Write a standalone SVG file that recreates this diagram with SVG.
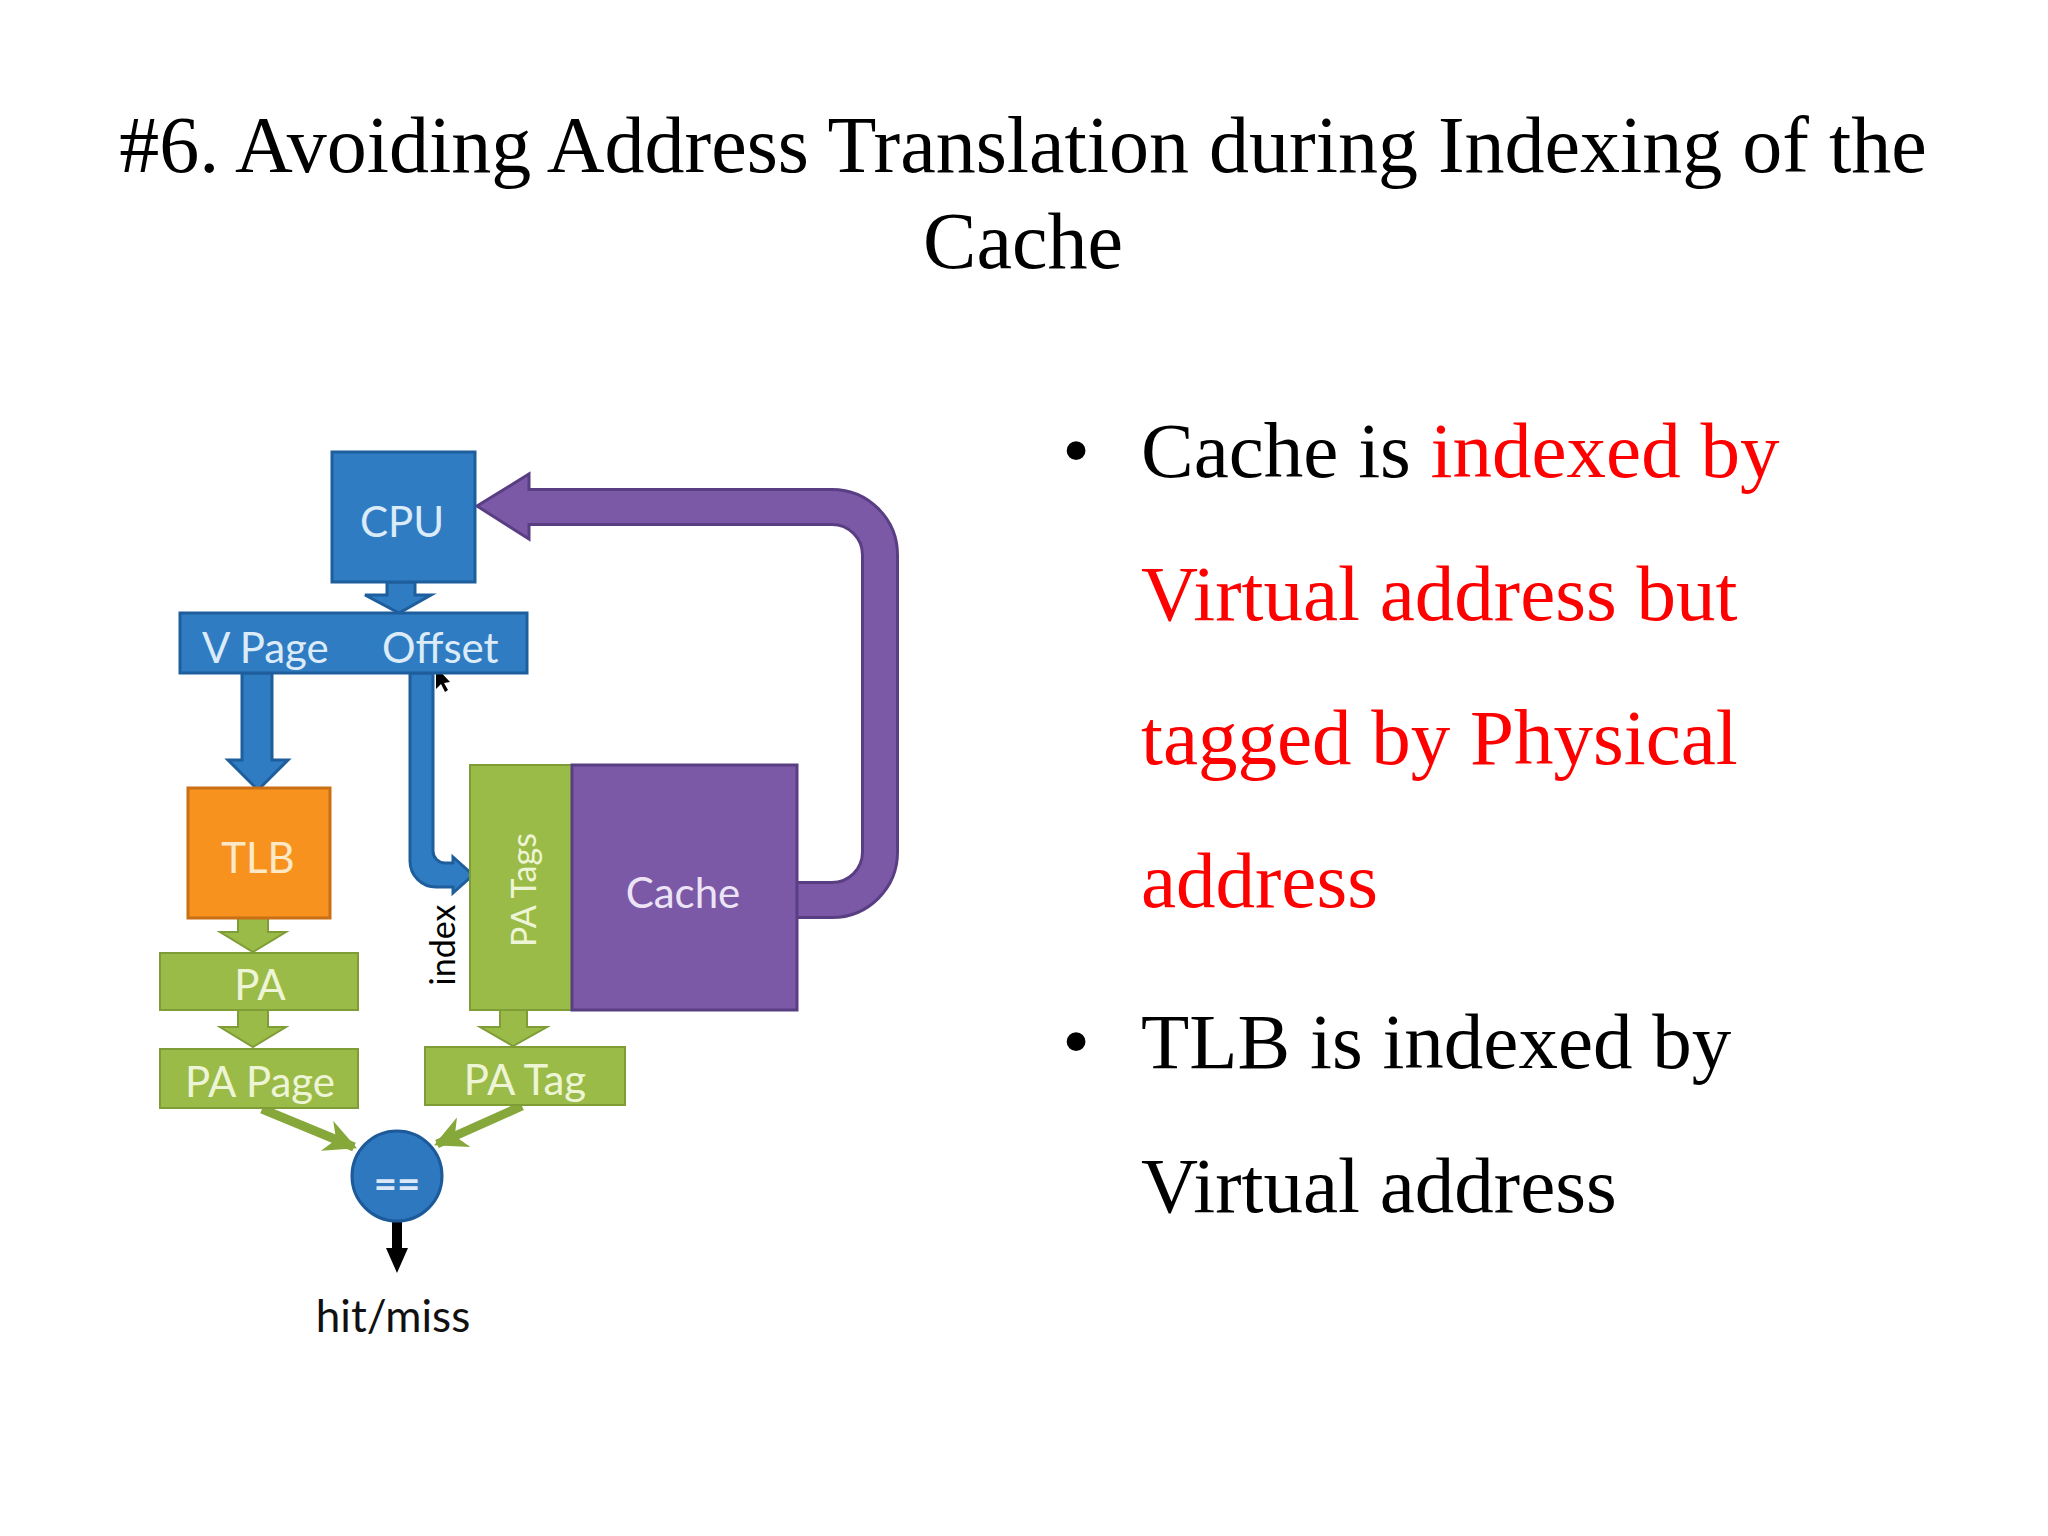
<svg xmlns="http://www.w3.org/2000/svg" width="2048" height="1536" viewBox="0 0 2048 1536">
<style>
.title{font-family:"Liberation Serif","Times New Roman",serif;font-size:80px;fill:#000}
.bul{font-family:"Liberation Serif","Times New Roman",serif;font-size:79px;fill:#000}
.red{fill:#ff0000}
.lbl{font-family:Lato,"Open Sans",sans-serif;font-size:42px;text-anchor:middle}
.blue{fill:#2f7cc3;stroke:#1f5e9c;stroke-width:3}
.orange{fill:#f7921e;stroke:#c96f16;stroke-width:3}
.green{fill:#9bbb48;stroke:#7f9d36;stroke-width:2}
.purple{fill:#7b59a6;stroke:#5a3e84;stroke-width:3}
.tb{fill:#dcebf8}.to{fill:#fde9c8}.tg{fill:#eef5d6}.tp{fill:#ece3f7}
</style>
<defs>
<marker id="gh" viewBox="0 0 10 10" refX="9" refY="5" markerWidth="3.6" markerHeight="3.6" orient="auto" markerUnits="strokeWidth">
<path d="M0,0 L10,5 L0,10 L3,5 Z" fill="#86a83a"/>
</marker>
</defs>
<rect width="2048" height="1536" fill="#fff"/>
<text class="title" x="1023" y="172" text-anchor="middle">#6. Avoiding Address Translation during Indexing of the</text>
<text class="title" x="1023" y="268" text-anchor="middle">Cache</text>
<g id="bullets">
<text class="bul" x="1076" y="477" text-anchor="middle">•</text>
<text class="bul" x="1141" y="477">Cache is <tspan class="red">indexed by</tspan></text>
<text class="bul red" x="1141" y="620">Virtual address but</text>
<text class="bul red" x="1141" y="764">tagged by Physical</text>
<text class="bul red" x="1141" y="907">address</text>
<text class="bul" x="1076" y="1068" text-anchor="middle">•</text>
<text class="bul" x="1141" y="1068">TLB is indexed by</text>
<text class="bul" x="1141" y="1212">Virtual address</text>
</g>
<g id="connectors">
<path d="M797,900 H832 A48,48 0 0 0 880,852 V555 A48,48 0 0 0 832,507 H527" fill="none" stroke="#5a3e84" stroke-width="38"/>
<polygon points="477,506 529,474 529,539" class="purple"/>
<path d="M795,900 H832 A48,48 0 0 0 880,852 V555 A48,48 0 0 0 832,507 H524" fill="none" stroke="#7b59a6" stroke-width="32"/>
<polygon class="blue" points="387,582 415,582 415,595 431,595 399,613 365,595 387,595"/>
<polygon class="blue" points="242,673 272,673 272,760 288,760 258,790 228,760 242,760"/>
<path class="blue" d="M410,673 H433 V851 A12,12 0 0 0 445,863 H453 V857 L473,875 L453,893 V887 H436 A26,26 0 0 1 410,861 Z"/>
<polygon class="green" points="238,918 268,918 268,932 286,932 253,952 220,932 238,932"/>
<polygon class="green" points="238,1010 268,1010 268,1027 286,1027 253,1047 220,1027 238,1027"/>
<polygon class="green" points="500,1010 527,1010 527,1027 547,1027 513,1046 480,1027 500,1027"/>
<line x1="262" y1="1109" x2="354" y2="1147" stroke="#86a83a" stroke-width="9" marker-end="url(#gh)"/>
<line x1="522" y1="1106" x2="437" y2="1144" stroke="#86a83a" stroke-width="9" marker-end="url(#gh)"/>
<polygon points="392,1221 402,1221 402,1248 408,1248 397,1273 386,1248 392,1248" fill="#000"/>
<path d="M436,667 L436,689 L441,684 L445,692 L448,690 L444,683 L450,682 Z" fill="#000"/>
</g>
<g id="cpu">
<rect class="blue" x="332" y="452" width="143" height="130"/>
<text class="lbl tb" x="402" y="537">CPU</text>
</g>
<g id="vaddr">
<rect class="blue" x="180" y="613" width="347" height="60"/>
<text class="lbl tb" x="202" y="663" style="text-anchor:start">V Page</text>
<text class="lbl tb" x="382" y="663" style="text-anchor:start">Offset</text>
</g>
<g id="tlb">
<rect class="orange" x="188" y="788" width="142" height="130"/>
<text class="lbl to" x="258" y="873">TLB</text>
</g>
<g id="pa">
<rect class="green" x="160" y="953" width="198" height="57"/>
<text class="lbl tg" x="260" y="1000">PA</text>
</g>
<g id="papage">
<rect class="green" x="160" y="1049" width="198" height="59"/>
<text class="lbl tg" x="260" y="1097">PA Page</text>
</g>
<g id="patags">
<rect class="green" x="470" y="765" width="102" height="245"/>
<text class="lbl tg" style="font-size:34px" transform="translate(536,890) rotate(-90)">PA Tags</text>
</g>
<g id="cache">
<rect class="purple" x="572" y="765" width="225" height="245"/>
<text class="lbl tp" x="683" y="908">Cache</text>
</g>
<g id="patag">
<rect class="green" x="425" y="1047" width="200" height="58"/>
<text class="lbl tg" x="525" y="1095">PA Tag</text>
</g>
<g id="index-label">
<text class="lbl" style="font-size:34px;fill:#000" transform="translate(455,945) rotate(-90)">index</text>
</g>
<g id="compare">
<circle cx="397" cy="1176" r="45" fill="#2e78c0" stroke="#1d5a9a" stroke-width="3"/>
<text class="lbl" style="font-size:40px;font-weight:bold;fill:#dbe8f5" x="397" y="1198">==</text>
</g>
<g id="result">
<text class="lbl" style="font-size:44px;fill:#111" x="393" y="1332">hit/miss</text>
</g>
</svg>
